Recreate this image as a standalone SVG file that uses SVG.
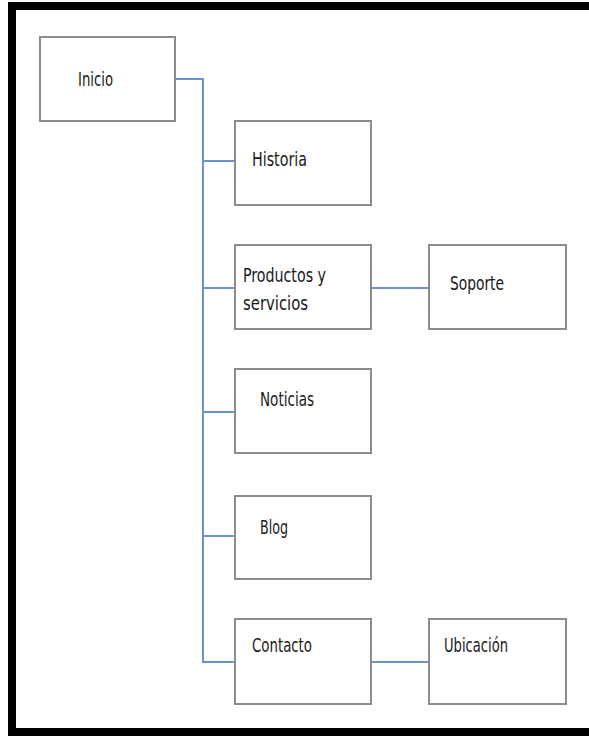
<svg xmlns="http://www.w3.org/2000/svg" width="589" height="736" viewBox="0 0 589 736">
<style>
.box{fill:#fff;stroke:#8c8c8c;stroke-width:2}
.con{fill:none;stroke:#6a92cc;stroke-width:2}
.t{font-family:"Liberation Sans Narrow","DejaVu Sans Condensed","Liberation Sans",sans-serif;font-size:20px;fill:#1a1a1a}
</style>
<rect x="0" y="0" width="589" height="736" fill="#fff"/>
<rect x="12" y="6" width="620" height="726" fill="none" stroke="#000" stroke-width="8"/>
<g id="connectors">
<path class="con" d="M175,79 H203 V662 H235"/>
<path class="con" d="M203,161 H235"/>
<path class="con" d="M203,288 H235"/>
<path class="con" d="M203,412 H235"/>
<path class="con" d="M203,536 H235"/>
<path class="con" d="M371,288 H429"/>
<path class="con" d="M371,662 H429"/>
</g>
<g id="inicio"><rect class="box" x="40" y="37" width="135" height="84"/><text class="t" x="78" y="86" textLength="35" lengthAdjust="spacingAndGlyphs">Inicio</text></g>
<g id="historia"><rect class="box" x="235" y="121" width="136" height="84"/><text class="t" x="252" y="166" textLength="55" lengthAdjust="spacingAndGlyphs">Historia</text></g>
<g id="productos"><rect class="box" x="235" y="245" width="136" height="84"/><text class="t" x="243" y="282" textLength="83" lengthAdjust="spacingAndGlyphs">Productos y</text><text class="t" x="243" y="310" textLength="65" lengthAdjust="spacingAndGlyphs">servicios</text></g>
<g id="soporte"><rect class="box" x="429" y="245" width="137" height="84"/><text class="t" x="450" y="290" textLength="54" lengthAdjust="spacingAndGlyphs">Soporte</text></g>
<g id="noticias"><rect class="box" x="235" y="369" width="136" height="84"/><text class="t" x="260" y="406" textLength="54" lengthAdjust="spacingAndGlyphs">Noticias</text></g>
<g id="blog"><rect class="box" x="235" y="496" width="136" height="83"/><text class="t" x="260" y="534" textLength="28" lengthAdjust="spacingAndGlyphs">Blog</text></g>
<g id="contacto"><rect class="box" x="235" y="619" width="136" height="85"/><text class="t" x="252" y="652" textLength="60" lengthAdjust="spacingAndGlyphs">Contacto</text></g>
<g id="ubicacion"><rect class="box" x="429" y="619" width="137" height="85"/><text class="t" x="444" y="652" textLength="64" lengthAdjust="spacingAndGlyphs">Ubicación</text></g>
</svg>
